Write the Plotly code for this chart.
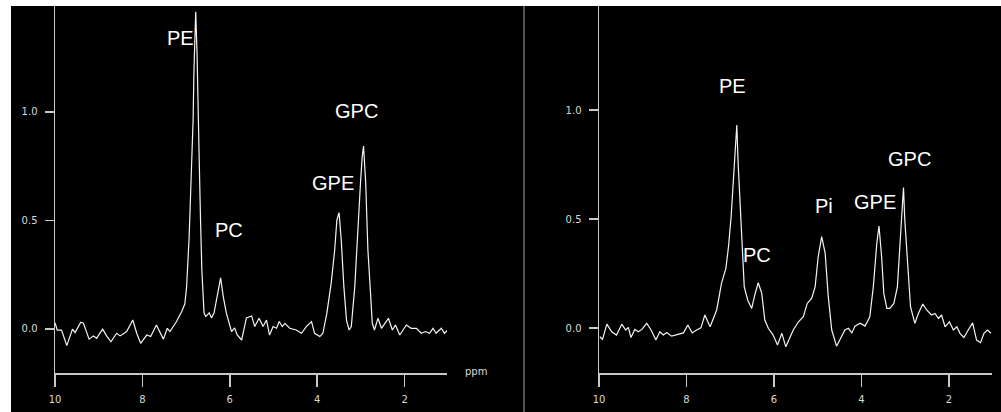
import plotly.graph_objects as go

# ---------------- data ----------------
left_ppm = [10.00, 9.95, 9.85, 9.73, 9.60, 9.54, 9.41, 9.35, 9.22, 9.12, 9.05, 8.91, 8.82, 8.72,
            8.59, 8.51, 8.36, 8.22, 8.13, 8.04, 7.90, 7.81, 7.68, 7.52, 7.43, 7.37, 7.22, 7.10,
            7.03, 6.99, 6.93, 6.88, 6.84, 6.82, 6.78, 6.75, 6.72, 6.70, 6.67, 6.64, 6.59, 6.55,
            6.47, 6.42, 6.36, 6.28, 6.21, 6.15, 6.08, 5.96, 5.89, 5.83, 5.73, 5.62, 5.50, 5.43,
            5.33, 5.24, 5.16, 5.09, 5.01, 4.93, 4.87, 4.80, 4.74, 4.63, 4.48, 4.36, 4.25, 4.13,
            4.06, 3.94, 3.87, 3.78, 3.68, 3.60, 3.55, 3.50, 3.45, 3.39, 3.33, 3.27, 3.22, 3.14,
            3.07, 3.01, 2.97, 2.94, 2.89, 2.84, 2.78, 2.74, 2.69, 2.61, 2.53, 2.46, 2.37, 2.28,
            2.21, 2.11, 2.04, 1.96, 1.85, 1.73, 1.62, 1.52, 1.43, 1.35, 1.28, 1.16, 1.09, 1.01]
left_int = [0.029, -0.005, -0.005, -0.077, -0.001, -0.017, 0.031, 0.026, -0.047, -0.032, -0.043,
            -0.001, -0.032, -0.059, -0.020, -0.032, -0.012, 0.041, -0.020, -0.066, -0.028, -0.035,
            0.018, -0.047, 0.003, -0.012, 0.034, 0.080, 0.115, 0.189, 0.425, 0.733, 0.963, 1.194,
            1.461, 1.272, 1.041, 0.779, 0.502, 0.272, 0.074, 0.057, 0.074, 0.051, 0.074, 0.166,
            0.235, 0.149, 0.074, -0.012, 0.005, -0.028, -0.051, 0.051, 0.060, 0.011, 0.049, 0.011,
            0.041, -0.028, 0.011, 0.003, 0.034, 0.011, 0.026, 0.003, -0.005, -0.020, 0.011, 0.034,
            -0.020, -0.035, -0.020, 0.072, 0.211, 0.364, 0.502, 0.536, 0.410, 0.195, 0.041, -0.005,
            0.011, 0.195, 0.471, 0.671, 0.794, 0.843, 0.671, 0.364, 0.165, 0.026, -0.005, 0.049,
            0.003, 0.026, 0.049, -0.005, 0.018, -0.028, -0.005, 0.018, 0.003, 0.003, -0.020,
            -0.012, -0.020, 0.003, -0.020, 0.003, -0.020, -0.005]

right_ppm = [9.98, 9.92, 9.82, 9.71, 9.60, 9.48, 9.39, 9.33, 9.27, 9.18, 9.10, 9.02, 8.91, 8.81,
             8.70, 8.61, 8.53, 8.45, 8.34, 8.19, 8.07, 7.97, 7.87, 7.77, 7.67, 7.58, 7.46, 7.31,
             7.20, 7.10, 7.04, 6.98, 6.93, 6.89, 6.85, 6.82, 6.77, 6.72, 6.68, 6.60, 6.51, 6.43,
             6.36, 6.28, 6.21, 6.13, 6.02, 5.92, 5.82, 5.73, 5.63, 5.56, 5.44, 5.33, 5.24, 5.14,
             5.06, 4.99, 4.91, 4.83, 4.76, 4.68, 4.57, 4.45, 4.38, 4.30, 4.22, 4.15, 4.03, 3.92,
             3.81, 3.73, 3.65, 3.60, 3.54, 3.49, 3.42, 3.35, 3.26, 3.18, 3.12, 3.07, 3.04, 3.01,
             2.95, 2.88, 2.78, 2.70, 2.60, 2.51, 2.40, 2.32, 2.24, 2.17, 2.09, 1.99, 1.90, 1.82,
             1.75, 1.66, 1.56, 1.46, 1.37, 1.28, 1.20, 1.12, 1.04]
right_int = [-0.040, -0.052, 0.018, -0.017, -0.032, 0.018, -0.009, 0.003, -0.043, -0.006, -0.017,
             -0.006, 0.022, -0.009, -0.055, -0.017, -0.032, -0.020, -0.037, -0.029, -0.022, 0.014,
             -0.022, -0.009, 0.001, 0.060, 0.006, 0.083, 0.205, 0.274, 0.373, 0.511, 0.694, 0.832,
             0.931, 0.756, 0.541, 0.343, 0.189, 0.128, 0.090, 0.159, 0.208, 0.159, 0.037, -0.001,
             -0.032, -0.078, -0.024, -0.086, -0.040, -0.009, 0.029, 0.052, 0.113, 0.136, 0.189,
             0.327, 0.419, 0.343, 0.144, -0.009, -0.083, -0.032, -0.009, -0.001, -0.022, 0.009,
             0.022, 0.009, 0.052, 0.189, 0.389, 0.468, 0.327, 0.159, 0.090, 0.090, 0.113, 0.189,
             0.404, 0.587, 0.645, 0.495, 0.312, 0.098, 0.022, 0.067, 0.110, 0.083, 0.060, 0.067,
             0.044, 0.060, 0.006, 0.029, -0.009, 0.006, -0.024, -0.043, -0.009, 0.024, -0.055,
             -0.067, -0.024, -0.009, -0.024]

x_tick_vals = [10, 8, 6, 4, 2]
x_tick_text = ["10", "8", "6", "4", "2"]
y_tick_vals = [0.0, 0.5, 1.0]
y_tick_text = ["0.0", "0.5", "1.0"]

left_labels = ["PE", "PC", "GPE", "GPC"]
left_label_ppm = [7.12, 6.02, 3.65, 3.10]
left_label_int = [1.339, 0.454, 0.673, 1.005]

right_labels = ["PE", "PC", "Pi", "GPE", "GPC"]
right_label_ppm = [6.95, 6.39, 4.86, 3.70, 2.91]
right_label_int = [1.108, 0.335, 0.560, 0.576, 0.775]

# ---------------- figure ----------------
W, H = 1001, 412
fig = go.Figure()

line_style = dict(color="#f4f4f4", width=1.2)
fig.add_trace(go.Scatter(x=left_ppm, y=left_int, mode="lines", line=line_style,
                         xaxis="x", yaxis="y", showlegend=False, hoverinfo="skip"))
fig.add_trace(go.Scatter(x=right_ppm, y=right_int, mode="lines", line=line_style,
                         xaxis="x2", yaxis="y2", showlegend=False, hoverinfo="skip"))

axis_col = "#c8c8c8"
tick_font = dict(family="DejaVu Sans, Arial, sans-serif", size=10, color="#d8d8d8")

def xaxis_cfg(domain, rng, anchor):
    return dict(domain=domain, range=rng, anchor=anchor, showgrid=False, zeroline=False,
                automargin=False,
                showline=True, linecolor=axis_col, linewidth=1.5,
                ticks="outside", ticklen=12, tickwidth=1.5, tickcolor=axis_col,
                tickvals=x_tick_vals, ticktext=x_tick_text, tickfont=tick_font,
                ticklabelstandoff=4)

def yaxis_cfg(domain, rng, anchor):
    return dict(domain=domain, range=rng, anchor=anchor, showgrid=False, zeroline=False,
                automargin=False,
                showline=True, linecolor=axis_col, linewidth=1.5,
                ticks="outside", ticklen=9, tickwidth=1.2, tickcolor=axis_col,
                tickvals=y_tick_vals, ticktext=y_tick_text, tickfont=tick_font,
                ticklabelstandoff=5)

ydom = [39 / H, 406 / H]
fig.update_layout(
    width=W, height=H, autosize=False,
    margin=dict(l=0, r=0, t=0, b=0, pad=0),
    paper_bgcolor="white", plot_bgcolor="black",
    xaxis=xaxis_cfg([55 / W, 447 / W], [10, 1.03], "y"),
    yaxis=yaxis_cfg(ydom, [-0.203, 1.488], "x"),
    xaxis2=xaxis_cfg([599 / W, 992 / W], [10, 1.017], "y2"),
    yaxis2=yaxis_cfg(ydom, [-0.206, 1.477], "x2"),
    shapes=[
        dict(type="rect", xref="paper", yref="paper", x0=11 / W, x1=1, y0=0, y1=406 / H,
             fillcolor="black", line=dict(width=0), layer="below"),
        dict(type="line", xref="paper", yref="paper", x0=524 / W, x1=524 / W, y0=0, y1=406 / H,
             line=dict(color="#8a8a8a", width=1.2), layer="below"),
    ],
)

label_font = dict(family="Liberation Sans, Arial, sans-serif", size=20, color="white")
annotations = []
for t, px, py in zip(left_labels, left_label_ppm, left_label_int):
    annotations.append(dict(text=t, x=px, y=py, xref="x", yref="y", showarrow=False,
                            font=label_font, xanchor="center", yanchor="middle"))
for t, px, py in zip(right_labels, right_label_ppm, right_label_int):
    annotations.append(dict(text=t, x=px, y=py, xref="x2", yref="y2", showarrow=False,
                            font=label_font, xanchor="center", yanchor="middle"))
annotations.append(dict(text="ppm", x=463 / W, y=ydom[0] + 0.004, xref="paper", yref="paper",
                        showarrow=False, xanchor="left", yanchor="middle",
                        font=dict(family="DejaVu Sans, Arial, sans-serif", size=10, color="#d8d8d8")))
fig.update_layout(annotations=annotations)

fig.write_html("out.html",
               config={"displayModeBar": False, "staticPlot": True},
               post_script="document.body.style.margin='0';document.body.style.padding='0';")
